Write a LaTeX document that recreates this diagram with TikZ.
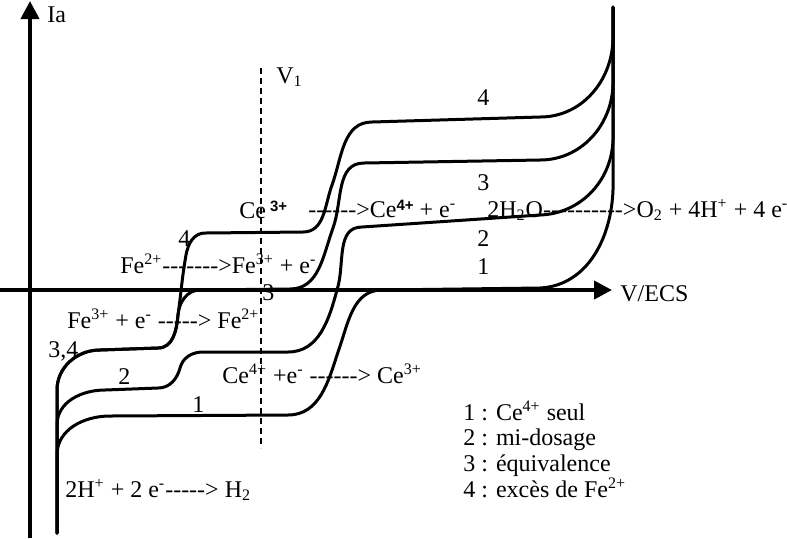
\documentclass[tikz,border=0pt]{standalone}
\usepackage{fontspec}
\setmainfont{Liberation Serif}[Ligatures=TeXOff]
\setsansfont{Liberation Sans}
\usetikzlibrary{
  calc,positioning,
  arrows,arrows.meta
}
\newcommand\bsup[1]{\raisebox{3.5pt}{\sffamily\bfseries\fontsize{7.5}{8}\selectfont #1}}

\tikzset{
  axe/.style={line width=2pt,-{Triangle[length=9pt,width=9pt]}},
  courbe/.style={line width=1.5pt,line join=round,line cap=round},
  lbl/.style={anchor=base west,inner sep=0pt,font=\fontsize{12}{14}\selectfont}
}

\begin{document}
\begin{tikzpicture}[x=0.5pt,y=0.5pt]
\useasboundingbox (0,0) rectangle (787,-538);

% axes
\coordinate (ybas) at (30,-538);
\coordinate (yhaut) at (30,-1);
\coordinate (xgauche) at (0,-290);
\coordinate (xdroite) at (612,-290);
\draw[axe] (ybas) -- (yhaut);
\draw[axe] (xgauche) -- (xdroite);
\node[lbl] (ia) at (47,-22) {Ia};
\node[lbl] (vecs) at (620,-301) {V/ECS};

% V1
\coordinate (vhaut) at (261,-68);
\coordinate (vbas) at (261,-448);
\draw[line width=0.7pt,dash pattern=on 3pt off 2pt] (vhaut) -- (vbas);
\node[lbl] (v1) at (276,-83) {V\textsubscript{1}};

% courbes 1 a 4
\draw[courbe] (57,-533) -- (57,-455) to[out=90,in=180] (110,-416) -- (288,-415)
  to[out=0,in=-108] (338,-352) to[out=70,in=180] (382,-290) -- (540,-288)
  to[out=3,in=-92] (613,-190) -- (613,-7);
\draw[courbe] (57,-533) -- (57,-425) to[out=90,in=180] (105,-390) -- (158,-388)
  to[out=0,in=-105] (180,-368) to[out=75,in=180] (203,-352) -- (288,-352)
  to[out=0,in=-105] (337,-290) to[out=72,in=180] (362,-227) -- (540,-215)
  to[out=2,in=-92] (613,-140) -- (613,-7);
\draw[courbe] (57,-533) -- (57,-390) to[out=90,in=180] (100,-350) -- (158,-348)
  to[out=0,in=-95] (178,-315) to[out=85,in=180] (200,-290) -- (290,-289)
  to[out=0,in=-110] (333,-228) to[out=70,in=180] (364,-163) -- (540,-160)
  to[out=0,in=-92] (613,-85) -- (613,-7);
\draw[courbe] (57,-533) -- (57,-390) to[out=90,in=180] (100,-350) -- (158,-348)
  to[out=0,in=-95] (178,-315) to[out=82,in=-100] (186,-255) to[out=80,in=180] (205,-233)
  -- (303,-232) to[out=0,in=-110] (332,-185) to[out=70,in=180] (372,-122)
  -- (540,-117) to[out=0,in=-92] (613,-40) -- (613,-7);

% numeros des courbes
\node[lbl] (n4) at (477,-105) {4};
\node[lbl] (n3) at (477,-190) {3};
\node[lbl] (n2) at (477,-246) {2};
\node[lbl] (n1) at (477,-274) {1};
\node[lbl] (n4g) at (178,-246) {4};
\node[lbl] (n3g) at (262,-300) {3};
\node[lbl] (n34) at (48,-357) {3,4};
\node[lbl] (n2g) at (118,-384) {2};
\node[lbl] (n1g) at (192,-412) {1};

% reactions
\node[lbl] (ce3) at (239,-218) {Ce\,\bsup{3+}};
\node[lbl] (ce4) at (308,-217) {------>Ce\bsup{4+} + e\textsuperscript{-}};
\node[lbl] (h2o) at (487,-217) {2H\textsubscript{2}O---------->O\textsubscript{2} + 4H\textsuperscript{+} + 4 e\textsuperscript{-}};
\node[lbl] (fe2) at (120,-273) {Fe\textsuperscript{2+}------->Fe\textsuperscript{3+} + e\textsuperscript{-}};
\node[lbl] (fe3) at (67,-328) {Fe\textsuperscript{3+} + e\textsuperscript{-} -----> Fe\textsuperscript{2+}};
\node[lbl] (ce4r) at (222,-383) {Ce\textsuperscript{4+} +e\textsuperscript{-} ------> Ce\textsuperscript{3+}};
\node[lbl] (hplus) at (65,-497) {2H\textsuperscript{+} + 2 e\textsuperscript{-}-----> H\textsubscript{2}};

% legende
\foreach \t [count=\i] in {{1 : Ce\textsuperscript{4+} seul},{2 : mi-dosage},
  {3 : équivalence},{4 : excès de Fe\textsuperscript{2+}}}
  \node[lbl] (leg\i) at (463,-420-25.7*\i+25.7) {\t};
\end{tikzpicture}
\end{document}
